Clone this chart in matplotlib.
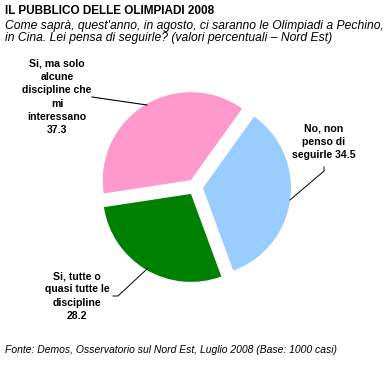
import matplotlib.pyplot as plt

# ============================
# Data
# ============================
labels = ["No, non\npenso di\nseguirle 34.5",
          "Si, ma solo\nalcune\ndiscipline che\nmi\ninteressano\n37.3",
          "Si, tutte o\nquasi tutte le\ndiscipline\n28.2"]
values = [34.5, 37.3, 28.2]
colors = ["#99CCFF", "#FF99CC", "#008000"]

title = "IL PUBBLICO DELLE OLIMPIADI 2008"
subtitle = ("Come saprà, quest'anno, in agosto, ci saranno le Olimpiadi a Pechino,\n"
            "in Cina. Lei pensa di seguirle? (valori percentuali – Nord Est)")
source = "Fonte: Demos, Osservatorio sul Nord Est, Luglio 2008 (Base: 1000 casi)"

plt.rcParams['font.family'] = ['Liberation Sans', 'DejaVu Sans']

# ============================
# Figure (axes in pixel units, y up)
# ============================
W, H = 389, 366
fig = plt.figure(figsize=(W / 100, H / 100), dpi=100)
ax = fig.add_axes([0, 0, 1, 1])

ax.pie(
    values,
    colors=colors,
    startangle=-69.8,
    counterclock=True,
    radius=88,
    center=(195, H - 187),
    explode=[8] * len(values),
    wedgeprops=dict(linewidth=0),
    frame=True,
)
ax.set_xlim(0, W)
ax.set_ylim(0, H)
ax.set_aspect('equal')
ax.axis('off')

# Titles
fig.text(5 / W, 1 - 11 / H, title, fontsize=8.5, fontweight='bold',
         va='center', ha='left')
fig.text(5 / W, 1 - 32 / H, subtitle, fontsize=8.7, style='italic',
         va='center', ha='left', linespacing=1.05)
fig.text(5 / W, 1 - 350 / H, source, fontsize=7.5, style='italic',
         va='center', ha='left')

# Slice labels
lab_kw = dict(fontsize=7.6, fontweight='bold', ha='center', va='center',
              linespacing=1.4)
ax.text(324, H - 142, labels[0], **lab_kw)
ax.text(57, H - 97, labels[1], **lab_kw)
ax.text(77, H - 296, labels[2], **lab_kw)

# Leader lines
ax.plot([324, 324, 290], [H - 167, H - 171, H - 200], color='black', lw=0.7)
ax.plot([92, 147], [H - 97, H - 105], color='black', lw=0.8)
ax.plot([113, 118, 147], [H - 296, H - 296, H - 269], color='black', lw=0.7)

fig.savefig("out.png", dpi=100)
